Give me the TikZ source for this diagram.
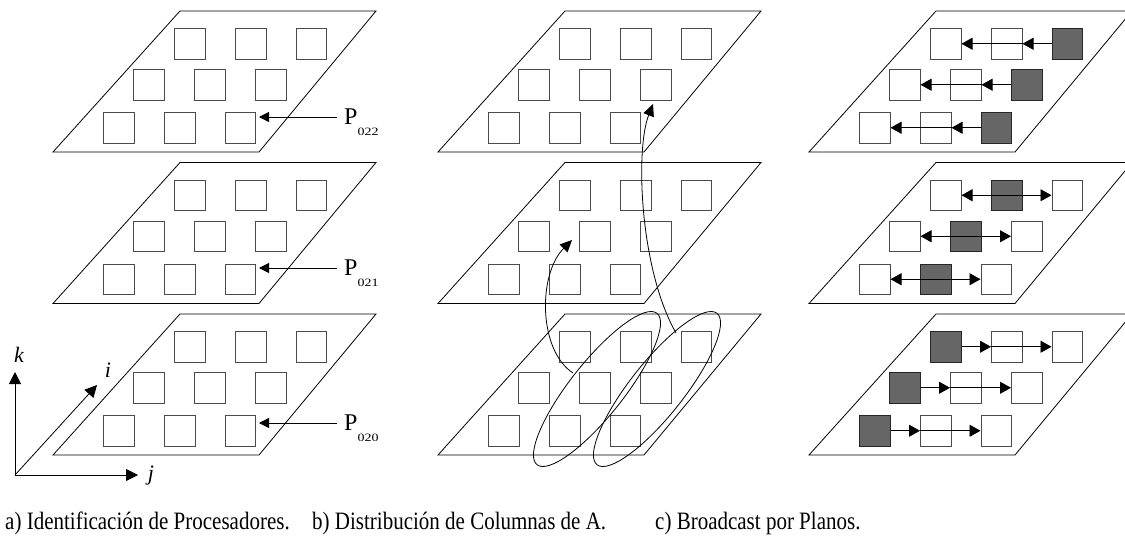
\documentclass[tikz,border=0pt]{standalone}
\usepackage{fontspec}
\setmainfont{Liberation Serif}
\usepackage{graphicx}
\usetikzlibrary{arrows.meta}

\definecolor{sqgray}{HTML}{666666}
\definecolor{sqedge}{HTML}{4A4A4A}

% lowered index set after a processor name
\newcommand{\procidx}[1]{\raisebox{-11pt}{\scalebox{1}[0.8]{\fontsize{14}{14}\selectfont #1}}}
% narrow caption text
\newcommand{\capline}[1]{\scalebox{0.84}[1]{#1}}

\begin{document}
\begin{tikzpicture}[x=1pt,y=-1pt,
  plane/.style={draw=black,line width=0.8pt,line join=miter},
  pe/.style={draw=sqedge,line width=1pt,minimum size=30.5pt,inner sep=0pt,anchor=north west},
  link/.style={line width=0.8pt,draw=black},
  ptip/.style={link,-{Triangle[length=10pt,width=10pt]}},
  axtip/.style={link,-{Triangle[length=12pt,width=12pt]}},
  btip/.style={link,-{Triangle[length=12pt,width=11pt]}},
  ctip/.style={link,-{Triangle[length=11pt,width=12pt]}},
  cboth/.style={link,{Triangle[length=11pt,width=12pt]}-{Triangle[length=11pt,width=12pt]}},
  ring/.style={line width=0.8pt,draw=black},
  plab/.style={inner sep=0pt,anchor=base west,font=\fontsize{24}{24}\selectfont},
  axl/.style={inner sep=0pt,font=\fontsize{22}{22}\selectfont\itshape},
  capt/.style={inner sep=0pt,anchor=base west,font=\fontsize{25}{29}\selectfont}]

\useasboundingbox (0,0) rectangle (1125,544);

% three panels, each with three planes of 3x3 processors
\foreach \p/\X/\shade in {a/0/0,b/385/0,c/756/1} {
  \foreach \k/\Y in {1/11,2/162.5,3/314} {
    \draw[plane] (\X+180,\Y) -- (\X+376,\Y) -- (\X+259,\Y+141) -- (\X+53,\Y+141) -- cycle;
    \foreach \r/\dy/\xa/\xb/\xc in {1/17/174/235/295.5,2/58/133/194/255,3/101/103/164/224.5} {
      \foreach \c/\xx in {1/\xa,2/\xb,3/\xc} {
        \pgfmathtruncatemacro\g{\shade*(4-\k)}
        \ifnum\c=\g \def\fc{sqgray}\def\dc{black!85}\else\def\fc{white}\def\dc{sqedge}\fi
        \node[pe,fill=\fc,draw=\dc] (\p\k\r\c) at (\X+\xx,\Y+\dy) {};
      }
    }
  }
}

% panel a: processor labels
\node[plab] (p022) at (344,124) {P\procidx{022}};
\node[plab] (p021) at (344,275) {P\procidx{021}};
\node[plab] (p020) at (344,430) {P\procidx{020}};
\path ([shift={(-7pt,7pt)}]p022.base west) coordinate (q022);
\path ([shift={(-7pt,7pt)}]p021.base west) coordinate (q021);
\path ([shift={(-7pt,7pt)}]p020.base west) coordinate (q020);
\draw[ptip] (q022) -- ([xshift=3pt]a133.east |- q022);
\draw[ptip] (q021) -- ([xshift=3pt]a233.east |- q021);
\draw[ptip] (q020) -- ([xshift=3pt]a333.east |- q020);

% panel a: axes
\coordinate (o) at (15,475);
\coordinate (kend) at (15,372);
\coordinate (jend) at (138,475);
\coordinate (iend) at (97,385);
\draw[axtip] (o) -- (kend);
\draw[axtip] (o) -- (jend);
\draw[axtip] (o) -- (iend);
\node[axl] (klab) at (19,355) {k};
\node[axl] (ilab) at (108,370) {i};
\node[axl] (jlab) at (151,476) {j};

% panel b: columns of A and their distribution
\draw[ring,rotate around={51.6:(597,389)}] (597,389) ellipse [x radius=96.6pt,y radius=26.7pt];
\draw[ring,rotate around={51.6:(657,389)}] (657,389) ellipse [x radius=96.6pt,y radius=26.7pt];
\coordinate (s1) at (573,373);
\coordinate (e1) at (572,240);
\coordinate (s2) at (676,333);
\coordinate (e2) at (653,104);
\draw[btip] (s1) .. controls (538,350) and (538,274) .. (e1);
\draw[btip] (s2) .. controls (640,270) and (635,150) .. (e2);

% panel c: broadcast along each plane
\foreach \r in {1,2,3} {
  \draw[ctip] (c1\r3.west) -- (c1\r2.east);
  \draw[ctip] (c1\r2.east) -- (c1\r1.east);
  \draw[cboth] (c2\r1.east) -- (c2\r3.west);
  \draw[ctip] (c3\r1.east) -- (c3\r2.west);
  \draw[ctip] (c3\r2.west) -- (c3\r3.west);
}

% captions
\node[capt] (capa) at (5,529) {\capline{a) Identificación de Procesadores.}};
\node[capt] (capb) at (312,529) {\capline{b) Distribución de Columnas de A.}};
\node[capt] (capc) at (655,529) {\capline{c) Broadcast por Planos.}};
\end{tikzpicture}
\end{document}
